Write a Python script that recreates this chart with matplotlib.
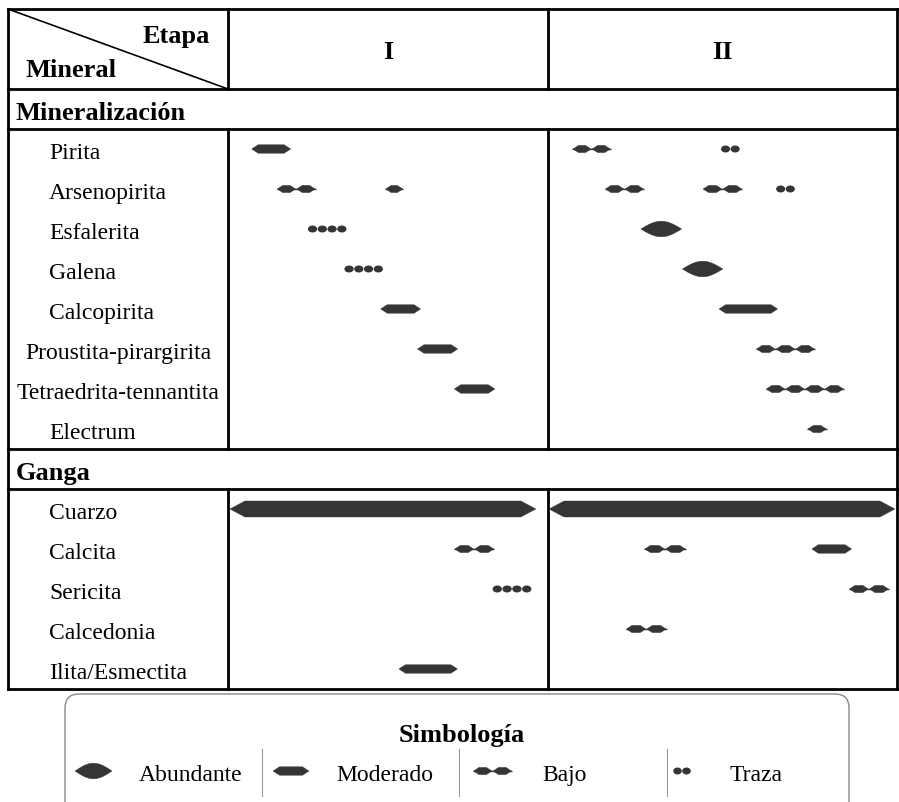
import numpy as np
import matplotlib.pyplot as plt
from matplotlib.patches import Polygon, Ellipse, FancyBboxPatch

plt.rcParams['font.family'] = ['Liberation Serif', 'DejaVu Serif']

# --- data -------------------------------------------------------------
etapas = ["I", "II"]
mineralizacion = ["Pirita", "Arsenopirita", "Esfalerita", "Galena", "Calcopirita",
                  "Proustita-pirargirita", "Tetraedrita-tennantita", "Electrum"]
ganga = ["Cuarzo", "Calcita", "Sericita", "Calcedonia", "Ilita/Esmectita"]
niveles = ["Abundante", "Moderado", "Bajo", "Traza"]

# (mineral, inicio, fin, abundancia) - tiempo relativo (0-100) dentro de cada etapa
etapa_I = [
    ("Pirita", 7.4, 19.6, "Moderado"),
    ("Arsenopirita", 15.2, 27.4, "Bajo"),
    ("Arsenopirita", 49.1, 54.8, "Bajo"),
    ("Esfalerita", 24.9, 37.1, "Traza"),
    ("Galena", 36.3, 48.5, "Traza"),
    ("Calcopirita", 47.7, 60.2, "Moderado"),
    ("Proustita-pirargirita", 59.2, 71.8, "Moderado"),
    ("Tetraedrita-tennantita", 70.7, 83.4, "Moderado"),
    ("Cuarzo", 0.6, 96.2, "Abundante"),
    ("Calcita", 70.7, 83.2, "Bajo"),
    ("Sericita", 82.6, 94.9, "Traza"),
    ("Ilita/Esmectita", 53.4, 71.7, "Moderado"),
]
etapa_II = [
    ("Pirita", 7.0, 18.0, "Bajo"),
    ("Pirita", 49.5, 55.0, "Traza"),
    ("Arsenopirita", 16.3, 27.5, "Bajo"),
    ("Arsenopirita", 44.3, 55.7, "Bajo"),
    ("Arsenopirita", 65.3, 70.8, "Traza"),
    ("Esfalerita", 26.6, 38.3, "Abundante"),
    ("Galena", 38.5, 50.1, "Abundante"),
    ("Calcopirita", 49.0, 65.8, "Moderado"),
    ("Proustita-pirargirita", 59.6, 76.5, "Bajo"),
    ("Tetraedrita-tennantita", 62.4, 84.8, "Bajo"),
    ("Electrum", 74.3, 79.9, "Bajo"),
    ("Cuarzo", 0.3, 99.4, "Abundante"),
    ("Calcita", 27.6, 39.5, "Bajo"),
    ("Calcita", 75.6, 87.0, "Moderado"),
    ("Sericita", 86.2, 97.7, "Bajo"),
    ("Calcedonia", 22.3, 34.0, "Bajo"),
]

# --- layout (pixels) --------------------------------------------------
W, H = 899, 803
X_LEFT, X_C1, X_C2, X_RIGHT = 8, 228, 548, 897
Y_TOP, ROW = 10, 40
N_ROWS = 2 + 1 + len(mineralizacion) + 1 + len(ganga)
Y_BOTTOM = Y_TOP + N_ROWS * ROW
FILL = '#353535'

row_of = {}
for i, m in enumerate(mineralizacion):
    row_of[m] = 3.5 + i
for j, m in enumerate(ganga):
    row_of[m] = 3 + len(mineralizacion) + 1.5 + j


def px_scale(ax):
    x0, x1 = ax.get_xlim()
    y0, y1 = ax.get_ylim()
    return ax.bbox.width / abs(x1 - x0), ax.bbox.height / abs(y1 - y0)


def hexagon(ax, a, b, y, half_px, taper_px):
    sx, sy = px_scale(ax)
    hh = half_px / sy
    tp = min(taper_px / sx, (b - a) / 2)
    pts = [(a, y), (a + tp, y - hh), (b - tp, y - hh), (b, y), (b - tp, y + hh), (a + tp, y + hh)]
    ax.add_patch(Polygon(pts, closed=True, fc=FILL, ec=FILL, lw=0.3))


def lens(ax, a, b, y, half_px, power=1.0):
    sx, sy = px_scale(ax)
    t = np.linspace(0, 1, 61)
    xs = a + (b - a) * t
    hs = half_px / sy * np.sin(np.pi * t) ** power
    pts = np.column_stack([np.r_[xs, xs[::-1]], np.r_[y - hs, (y + hs)[::-1]]])
    ax.add_patch(Polygon(pts, closed=True, fc=FILL, ec=FILL, lw=0.3))


def symbol(ax, a, b, y, level):
    sx, sy = px_scale(ax)
    width_px = (b - a) * sx
    if level == "Abundante":
        if width_px < 60:
            lens(ax, a, b, y, 7.8)
        else:
            hexagon(ax, a, b, y, 8, 15)
    elif level == "Moderado":
        hexagon(ax, a, b, y, 4.2, 6.5)
    elif level == "Bajo":
        n = max(1, int(round(width_px / 19.5)))
        w = (b - a) / n
        ax.plot([a, b], [y, y], color=FILL, lw=1.0, solid_capstyle='butt')
        for k in range(n):
            hexagon(ax, a + k * w + 0.6 / sx, a + (k + 1) * w - 0.6 / sx, y, 3.6, 5.5)
    elif level == "Traza":
        n = max(1, int(round(width_px / 9.7)))
        w = (b - a) / n
        for k in range(n):
            ax.add_patch(Ellipse((a + (k + 0.5) * w, y), w * 0.95, 7.0 / sy, fc=FILL, ec='none'))


fig = plt.figure(figsize=(W / 100, H / 100), dpi=100)
bg = fig.add_axes([0, 0, 1, 1])
bg.set_xlim(0, W)
bg.set_ylim(H, 0)
bg.axis('off')

# --- table frame ------------------------------------------------------
lw = 2.0
y_min_sec = Y_TOP + 2 * ROW
y_min_top = y_min_sec + ROW
y_gan_sec = y_min_top + len(mineralizacion) * ROW
y_gan_top = y_gan_sec + ROW
for yy in [Y_TOP, y_min_sec, y_min_top, y_gan_sec, y_gan_top, Y_BOTTOM]:
    bg.plot([X_LEFT, X_RIGHT], [yy, yy], color='black', lw=lw, solid_capstyle='projecting')
bg.plot([X_LEFT, X_LEFT], [Y_TOP, Y_BOTTOM], color='black', lw=lw)
bg.plot([X_RIGHT, X_RIGHT], [Y_TOP, Y_BOTTOM], color='black', lw=lw)
for xx in [X_C1, X_C2]:
    for ya, yb in [(Y_TOP, y_min_sec), (y_min_top, y_gan_sec), (y_gan_top, Y_BOTTOM)]:
        bg.plot([xx, xx], [ya, yb], color='black', lw=lw)
bg.plot([X_LEFT, X_C1], [Y_TOP, y_min_sec], color='black', lw=1.2)

bold = dict(fontweight='bold', fontsize=19, color='black')
bg.text(210, 34, "Etapa", ha='right', va='center_baseline', **bold)
bg.text(26, 68, "Mineral", ha='left', va='center_baseline', **bold)
centers = [(X_C1 + X_C2) / 2, (X_C2 + X_RIGHT) / 2]
for cx, et in zip(centers, etapas):
    bg.text(cx, Y_TOP + ROW, et, ha='center', va='center_baseline', **bold)
bg.text(16, y_min_sec + ROW / 2 + 1, "Mineralización", ha='left', va='center_baseline', **bold)
bg.text(16, y_gan_sec + ROW / 2 + 1, "Ganga", ha='left', va='center_baseline', **bold)

for m in mineralizacion + ganga:
    yy = Y_TOP + row_of[m] * ROW + 1
    if len(m) > 16:
        bg.text((X_LEFT + X_C1) / 2, yy, m, ha='center', va='center_baseline', fontsize=17)
    else:
        bg.text(49, yy, m, ha='left', va='center_baseline', fontsize=17)

# --- stage columns ----------------------------------------------------
stage_data = [etapa_I, etapa_II]
bounds = [(X_C1, X_C2), (X_C2, X_RIGHT)]
for (x0, x1), data in zip(bounds, stage_data):
    ax = fig.add_axes([x0 / W, 1 - Y_BOTTOM / H, (x1 - x0) / W, (Y_BOTTOM - Y_TOP) / H])
    ax.set_xlim(0, 100)
    ax.set_ylim(N_ROWS, 0)
    ax.axis('off')
    for m, a, b, level in data:
        symbol(ax, a, b, row_of[m], level)

# --- legend -----------------------------------------------------------
box = FancyBboxPatch((65, 695), 784, 140, boxstyle="round,pad=0,rounding_size=14",
                     fc='white', ec='#8a8a8a', lw=1.0)
bg.add_patch(box)
bg.text(462, 733, "Simbología", ha='center', va='center_baseline', **bold)
leg_y = 772
sym_x = [(75, 112), (273, 309), (473, 512), (673, 691)]
txt_x = [191, 385, 565, 756]
for (a, b), tx, lev in zip(sym_x, txt_x, niveles):
    symbol(bg, a, b, leg_y, lev)
    bg.text(tx, leg_y + 1, lev, ha='center', va='center_baseline', fontsize=17)
for sx in [262, 459, 667]:
    bg.plot([sx, sx], [750, 797], color='#9a9a9a', lw=0.8)

fig.savefig('out.png', dpi=100, facecolor='white')
